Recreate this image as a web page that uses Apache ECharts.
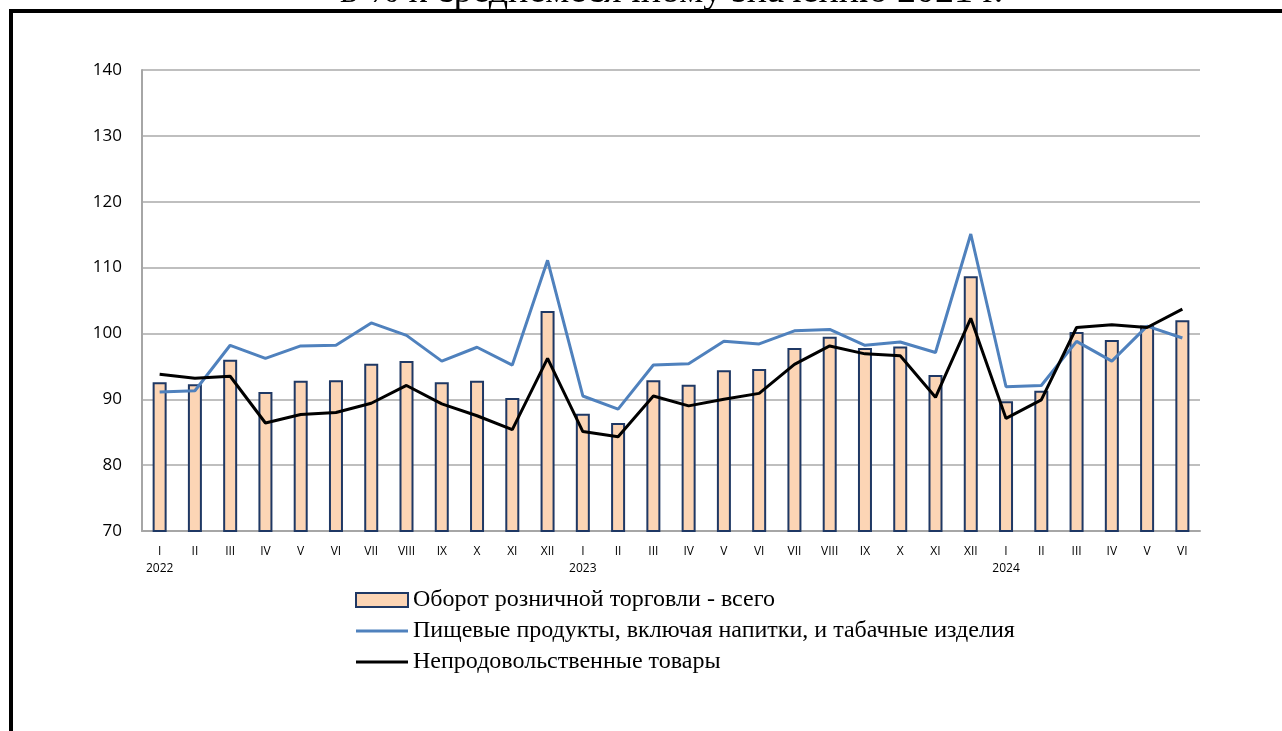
<!DOCTYPE html>
<html>
<head>
<meta charset="utf-8">
<script src="https://cdn.jsdelivr.net/npm/echarts@6/dist/echarts.min.js"></script>
<style>
  html, body { margin: 0; padding: 0; background: #fff; }
  #chart { width: 1282px; height: 731px; }
</style>
</head>
<body>
<div id="chart"></div>
<script>
const months = ["I", "II", "III", "IV", "V", "VI", "VII", "VIII", "IX", "X", "XI", "XII",
  "I", "II", "III", "IV", "V", "VI", "VII", "VIII", "IX", "X", "XI", "XII",
  "I", "II", "III", "IV", "V", "VI"]
const years = ["2022", "", "", "", "", "", "", "", "", "", "", "",
  "2023", "", "", "", "", "", "", "", "", "", "", "",
  "2024", "", "", "", "", ""]

// оборот розничной торговли - всего
const totalTurnover = [92.6, 92.3, 96.0, 91.1, 92.8, 92.9, 95.4, 95.8, 92.6, 92.8, 90.2, 103.4,
  87.8, 86.4, 92.9, 92.2, 94.4, 94.6, 97.8, 99.5, 97.8, 98.0, 93.7, 108.7,
  89.7, 91.3, 100.2, 99.0, 101.2, 102.0]
// пищевые продукты
const foodGoods = [91.1, 91.3, 98.2, 96.2, 98.1, 98.2, 101.6, 99.7, 95.8, 97.9, 95.2, 111.1,
  90.5, 88.5, 95.2, 95.4, 98.8, 98.4, 100.4, 100.6, 98.2, 98.7, 97.1, 115.1,
  91.9, 92.1, 98.8, 95.8, 101.1, 99.3]
// непродовольственные товары
const nonFoodGoods = [93.8, 93.2, 93.5, 86.4, 87.7, 88.0, 89.4, 92.1, 89.3, 87.5, 85.4, 96.2,
  85.1, 84.3, 90.5, 89.0, 90.0, 90.9, 95.3, 98.1, 96.9, 96.6, 90.3, 102.3,
  87.1, 89.9, 100.9, 101.3, 100.9, 103.7]

const seriesNames = [
  "Оборот розничной торговли - всего",
  "Пищевые продукты, включая напитки, и табачные изделия",
  "Непродовольственные товары"
]

// значок-линия для легенды
const lineIcon = "path://M0,0 L52,0 L52,3 L0,3 Z"

const chart = echarts.init(document.getElementById("chart"))

chart.setOption({
  animation: false,
  backgroundColor: "#fff",
  graphic: [
    // рамка
    { type: "rect", shape: { x: 9, y: 9, width: 1273, height: 4 }, style: { fill: "#000" }, z: 10 },
    { type: "rect", shape: { x: 9, y: 9, width: 4, height: 722 }, style: { fill: "#000" }, z: 10 },
    // заголовок, обрезанный сверху
    {
      type: "text",
      left: 340,
      top: -27,
      z: 5,
      style: {
        text: "в % к среднемесячному значению 2021 г.",
        font: "38px 'Liberation Serif', serif",
        fill: "#000"
      }
    }
  ],
  legend: {
    orient: "vertical",
    left: 350,
    top: 583,
    itemWidth: 52,
    itemHeight: 14,
    itemGap: 7,
    symbolKeepAspect: true,
    textStyle: {
      fontFamily: "'Liberation Serif', serif",
      fontSize: 24,
      color: "#000"
    },
    data: [
      { name: seriesNames[0], icon: "rect" },
      { name: seriesNames[1], icon: lineIcon },
      { name: seriesNames[2], icon: lineIcon }
    ]
  },
  grid: {
    left: 142,
    right: 82,
    top: 70,
    bottom: 200
  },
  xAxis: {
    type: "category",
    data: months.map((m, i) => years[i] ? m + "\n" + years[i] : m),
    axisLine: { lineStyle: { color: "#a6a6a6", width: 2 } },
    axisTick: { show: false },
    axisLabel: {
      fontFamily: "'Open Sans', sans-serif",
      fontSize: 12,
      color: "#000",
      lineHeight: 17,
      margin: 12,
      interval: 0
    }
  },
  yAxis: {
    type: "value",
    min: 70,
    max: 140,
    interval: 10,
    axisLine: { show: true, lineStyle: { color: "#a6a6a6", width: 2 } },
    axisTick: { show: false },
    axisLabel: {
      fontFamily: "'Open Sans', sans-serif",
      fontSize: 17,
      color: "#000",
      margin: 20
    },
    splitLine: { lineStyle: { color: "#bfbfbf", width: 2 } }
  },
  series: [
    {
      name: seriesNames[0],
      type: "bar",
      data: totalTurnover,
      barWidth: 14,
      itemStyle: {
        color: "#fcd5b5",
        borderColor: "#1f3864",
        borderWidth: 2
      }
    },
    {
      name: seriesNames[1],
      type: "line",
      data: foodGoods,
      symbol: "none",
      z: 3,
      itemStyle: { color: "#4f81bd" },
      lineStyle: { color: "#4f81bd", width: 3 }
    },
    {
      name: seriesNames[2],
      type: "line",
      data: nonFoodGoods,
      symbol: "none",
      z: 4,
      itemStyle: { color: "#000" },
      lineStyle: { color: "#000", width: 3 }
    }
  ]
})

window.addEventListener("resize", () => {
  chart.resize()
})
</script>
</body>
</html>
